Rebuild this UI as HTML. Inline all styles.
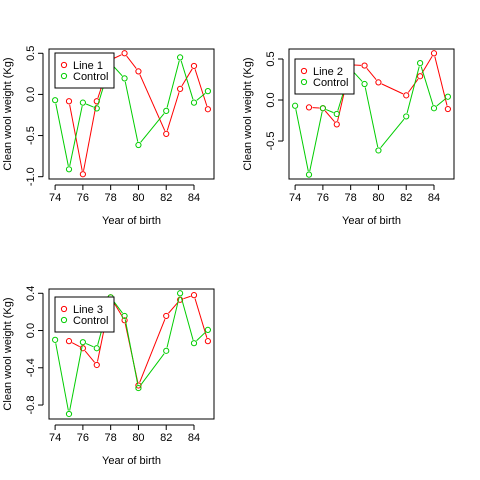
<!DOCTYPE html>
<html><head><meta charset="utf-8"><style>
body{margin:0;background:#fff}
svg{display:block;font-family:"Liberation Sans",Arial,sans-serif}
</style></head><body>
<svg id="c" width="480" height="480"></svg>
<script>
const years = [74,75,76,77,78,79,80,82,83,84,85];
const lineYears = [75,76,77,78,79,80,82,83,84,85];
const control = [-0.07,-0.91,-0.10,-0.17,0.38,0.195,-0.615,-0.20,0.45,-0.10,0.04];
const line1 = [-0.083,-0.97,-0.083,0.42,0.50,0.28,-0.48,0.067,0.346,-0.18];
const line2 = [-0.09,-0.10,-0.297,0.43,0.42,0.215,0.057,0.29,0.57,-0.11];
const line3 = [-0.114,-0.19,-0.37,0.357,0.11,-0.59,0.157,0.33,0.38,-0.114];
const control3 = [-0.10,-0.896,-0.125,-0.19,0.357,0.157,-0.618,-0.218,0.40,-0.136,0.007];
const xTicks = [74,76,78,80,82,84];
const yTicks12 = [0.5,0.0,-0.5,-1.0];
const yTicks2 = [0.5,0.0,-0.5];
const yTicks3 = [0.4,0.0,-0.4,-0.8];
const yLabels12 = ["0.5","0.0","-0.5","-1.0"];
const yLabels2 = ["0.5","0.0","-0.5"];
const yLabels3 = ["0.4","0.0","-0.4","-0.8"];

const NS="http://www.w3.org/2000/svg";
const svg=document.getElementById('c');
const FS=11;
function mk(tag,attrs,parent){const e=document.createElementNS(NS,tag);for(const k in attrs)e.setAttribute(k,attrs[k]);(parent||svg).appendChild(e);return e;}

function panel(ox,oy,name,series,ctrl,ylo,yhi,yt,yl){
  const g=mk('g',{});
  
  
  const L=ox+49,R=ox+214,T=oy+49,B=oy+179;
  const xs=v=>L+(v-73.56)/(85.44-73.56)*(R-L);
  const ys=v=>B-(v-ylo)/(yhi-ylo)*(B-T);
  function drawSeries(xv,yv,col,nm){
    const sg=mk('g',{},g);
    
    
    for(let i=0;i<xv.length-1;i++){
      const x1=xs(xv[i]),y1=ys(yv[i]),x2=xs(xv[i+1]),y2=ys(yv[i+1]);
      const d=Math.hypot(x2-x1,y2-y1);if(d<7)continue;
      const ux=(x2-x1)/d,uy=(y2-y1)/d;
      const s=mk('line',{x1:x1+ux*3.5,y1:y1+uy*3.5,x2:x2-ux*3.5,y2:y2-uy*3.5,stroke:col,'stroke-width':1},sg);
      
      
    }
    for(let i=0;i<xv.length;i++){
      const c=mk('circle',{cx:xs(xv[i]),cy:ys(yv[i]),r:2.6,fill:'none',stroke:col,'stroke-width':1},sg);
      
      
    }
  }
  drawSeries(lineYears,series,'#ff0000',name.toLowerCase().replace(' ','-'));
  drawSeries(years,ctrl,'#00cd00','control');
  const box=mk('rect',{x:L,y:T,width:R-L,height:B-T,fill:'none',stroke:'#000','stroke-width':1},g);
  
  
  mk('line',{x1:xs(74),x2:xs(84),y1:B+6,y2:B+6,stroke:'#000'},g);
  xTicks.forEach(t=>{
    mk('line',{x1:xs(t),x2:xs(t),y1:B+6,y2:B+11,stroke:'#000'},g);
    const tx=mk('text',{x:xs(t),y:oy+201,'font-size':FS,'text-anchor':'middle'},g);
    tx.textContent=t;
    
    
  });
  mk('line',{x1:L-6,x2:L-6,y1:ys(yt[0]),y2:ys(yt[yt.length-1]),stroke:'#000'},g);
  yt.forEach((t,i)=>{
    mk('line',{x1:L-11,x2:L-6,y1:ys(t),y2:ys(t),stroke:'#000'},g);
    const tx=mk('text',{x:ox+34,y:ys(t),'font-size':FS,'text-anchor':'middle',transform:`rotate(-90 ${ox+34} ${ys(t)})`},g);
    tx.textContent=yl[i];
    
    
  });
  const xt=mk('text',{x:(L+R)/2,y:oy+224,'font-size':FS,'text-anchor':'middle'},g);
  xt.textContent='Year of birth';
  
  
  const yy=(T+B)/2;
  const ytt=mk('text',{x:ox+11,y:yy,'font-size':FS,'text-anchor':'middle',transform:`rotate(-90 ${ox+11} ${yy})`},g);
  ytt.textContent='Clean wool weight (Kg)';
  
  
  const lg=mk('g',{},g);
  
  
  const lx=ox+55, ly=(name==='Line 2')?oy+59:(name==='Line 3'?oy+57:oy+53);
  mk('rect',{x:lx,y:ly,width:59,height:35,fill:'#fff',stroke:'#000'},lg);
  [[name,'#ff0000'],['Control','#00cd00']].forEach((it,i)=>{
    const cy=ly+12+i*11;
    mk('circle',{cx:lx+9,cy:cy,r:2.6,fill:'none',stroke:it[1]},lg);
    const t=mk('text',{x:lx+18,y:cy+4,'font-size':FS},lg);
    t.textContent=it[0];
    
    
  });
}
panel(0,0,'Line 1',line1,control,-1.028,0.552,yTicks12,yLabels12);
panel(240,0,'Line 2',line2,control,-0.963,0.622,yTicks2,yLabels2);
panel(0,240,'Line 3',line3,control3,-0.95,0.446,yTicks3,yLabels3);
</script>
</body></html>
